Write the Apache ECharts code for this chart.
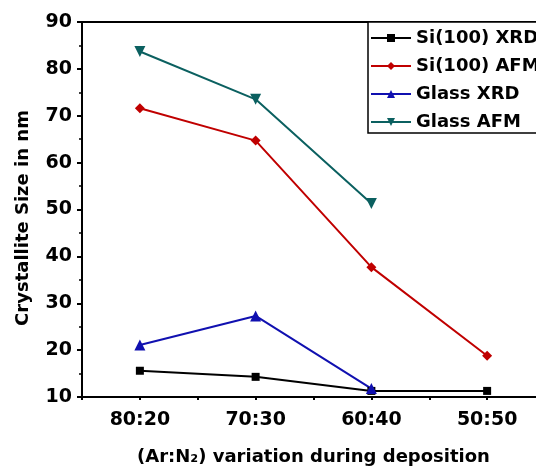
<!DOCTYPE html>
<html><head><meta charset="utf-8">
<script src="https://cdn.jsdelivr.net/npm/echarts@6/dist/echarts.min.js"></script>
<style>html,body{margin:0;padding:0;background:#fff}#c{width:536px;height:471px}</style>
</head><body><div id="c"></div>
<script>
const categories = ['80:20', '70:30', '60:40', '50:50'];
const siXRD = [15.6, 14.3, 11.3, 11.3];
const siAFM = [71.6, 64.7, 37.7, 18.8];
const glassXRD = [21.1, 27.3, 11.8];
const glassAFM = [83.7, 73.5, 51.3];
const seriesNames = ['Si(100) XRD', 'Si(100) AFM', 'Glass XRD', 'Glass AFM'];
const halfSteps = ['', '', '', '', '', '', '', '', ''];

const chart = echarts.init(document.getElementById('c'), null, {renderer: 'canvas'});
const tickFont = {fontFamily: 'DejaVu Sans', fontWeight: 'bold', fontSize: 19, color: '#000'};
const nameFont = {fontFamily: 'DejaVu Sans', fontWeight: 'bold', fontSize: 18, color: '#000'};
function mk(name, data, color, symbol, size) {
  return {name, type: 'line', data, xAxisIndex: 0, symbol, symbolSize: size,
    lineStyle: {color, width: 2}, itemStyle: {color}, emphasis: {disabled: true}, animation: false};
}
chart.setOption({
  animation: false,
  grid: {left: 82, top: 22, width: 463, height: 375, outerBoundsMode: 'none', containLabel: false,
    show: true, borderColor: '#000', borderWidth: 2},
  legend: {
    orient: 'vertical', left: 368, top: 22, itemWidth: 40, itemHeight: 10, itemGap: 10,
    padding: [7, 8, 2, 2], borderColor: '#000', borderWidth: 1.5, backgroundColor: '#fff',
    textStyle: {fontFamily: 'DejaVu Sans', fontWeight: 'bold', fontSize: 18, color: '#000'},
    data: seriesNames
  },
  xAxis: [{
    type: 'category', data: categories, boundaryGap: true,
    name: '(Ar:N\u2082) variation during deposition', nameLocation: 'middle', nameGap: 51,
    nameTextStyle: nameFont,
    axisLine: {lineStyle: {color: '#000', width: 2}},
    axisTick: {alignWithLabel: true, length: 6, lineStyle: {color: '#000', width: 2}},
    axisLabel: Object.assign({margin: 14}, tickFont),
    splitLine: {show: false}
  }, {
    type: 'category', data: halfSteps, boundaryGap: false, position: 'bottom',
    axisLine: {show: false}, axisLabel: {show: false},
    axisTick: {interval: 0, length: 3, lineStyle: {color: '#000', width: 2}},
    splitLine: {show: false}
  }],
  yAxis: {
    type: 'value', min: 10, max: 90, interval: 10,
    name: 'Crystallite Size in nm', nameLocation: 'middle', nameGap: 50,
    nameTextStyle: Object.assign({padding: [0, 17, 0, 0]}, nameFont),
    axisLine: {show: true, lineStyle: {color: '#000', width: 2}},
    axisTick: {show: true, length: 5, lineStyle: {color: '#000', width: 2}},
    minorTick: {show: true, splitNumber: 2, length: 3, lineStyle: {color: '#000', width: 1.5}},
    axisLabel: Object.assign({margin: 10}, tickFont),
    splitLine: {show: false}
  },
  series: [
    mk(seriesNames[0], siXRD, '#000000', 'rect', 8),
    mk(seriesNames[1], siAFM, '#c00000', 'diamond', 10),
    mk(seriesNames[2], glassXRD, '#1010b0', 'triangle', 11),
    mk(seriesNames[3], glassAFM, '#0b6060', 'path://M0,0 L10,0 L5,9 Z', 11)
  ]
});
</script></body></html>
